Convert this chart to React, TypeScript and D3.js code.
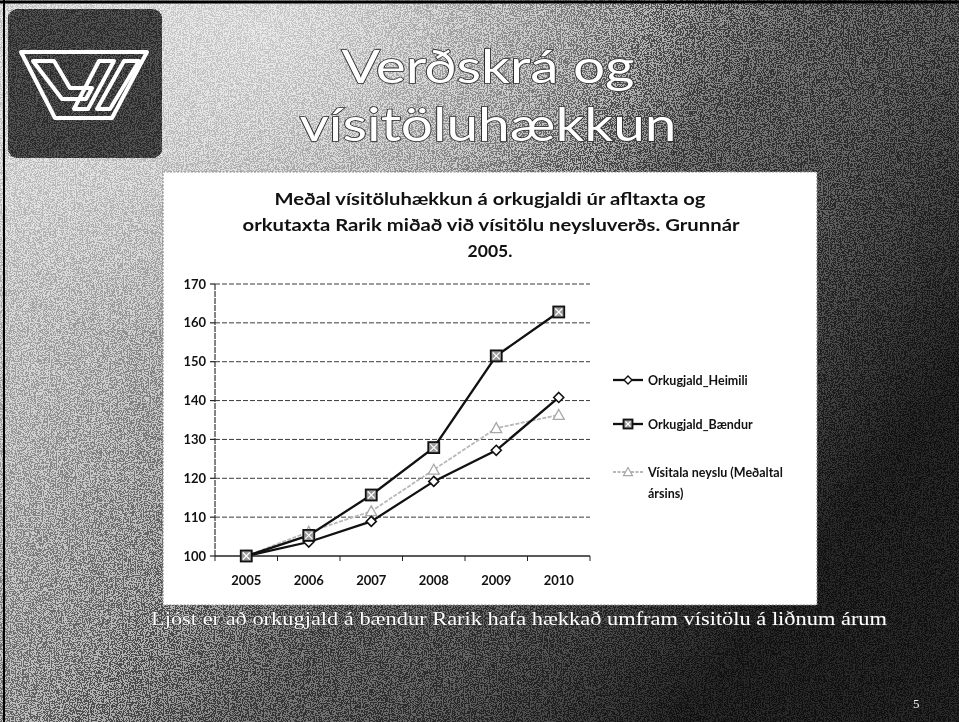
import React from "react";
import * as d3 from "d3";

const years = ["2005", "2006", "2007", "2008", "2009", "2010"];
const heimili = [100, 103.6, 108.9, 119.2, 127.2, 140.8];
const baendur = [100, 105.3, 115.7, 127.9, 151.5, 162.8];
const visitala = [100, 106.2, 111.5, 122.2, 132.9, 136.3];
const yTicks = [100, 110, 120, 130, 140, 150, 160, 170];
const seriesNames = ["Orkugjald_Heimili", "Orkugjald_Bændur", "Vísitala neyslu (Meðaltal", "ársins)"];
const slideTitle = ["Verðskrá og", "vísitöluhækkun"];
const chartTitle = [
  "Meðal vísitöluhækkun á orkugjaldi úr afltaxta og",
  "orkutaxta Rarik miðað við vísitölu neysluverðs. Grunnár",
  "2005.",
];
const caption = "Ljóst er að orkugjald á bændur Rarik hafa hækkað umfram vísitölu á liðnum árum";

const W = 959;
const H = 722;

export default function App() {
  const x = d3.scaleBand<string>().domain(years).range([215, 590]).padding(0);
  const y = d3.scaleLinear().domain([100, 170]).range([556, 284]);
  const cx = (d: string) => (x(d) as number) + x.bandwidth() / 2;
  const line = d3
    .line<number>()
    .x((_, i) => cx(years[i]))
    .y((v) => y(v));

  const chartFont = "Lato, 'Open Sans', sans-serif";
  const diamond = (px: number, py: number, r: number) =>
    `M${px},${py - r}L${px + r},${py}L${px},${py + r}L${px - r},${py}Z`;
  const triangle = (px: number, py: number, r: number) =>
    `M${px},${py - r}L${px + r},${py + r * 0.8}L${px - r},${py + r * 0.8}Z`;

  const squareMarker = (px: number, py: number, key: string | number, s = 5.5) => (
    <g key={key}>
      <rect x={px - s} y={py - s} width={s * 2} height={s * 2} fill="#9a9a9a" stroke="#111" strokeWidth={1.8} />
      <path d={`M${px - s + 2},${py - s + 2}L${px + s - 2},${py + s - 2}M${px + s - 2},${py - s + 2}L${px - s + 2},${py + s - 2}`} stroke="#fff" strokeWidth={1.2} />
    </g>
  );

  const legendX = 613;
  const legendY = [380, 424, 472];

  return (
    <svg width={W} height={H} style={{ position: "absolute", left: 0, top: 0 }}>
      <defs>
        <linearGradient id="bg" x1="0.1" y1="0.1" x2="0.95" y2="0.6">
          <stop offset="0" stopColor="#cdcdcd" />
          <stop offset="0.2" stopColor="#b2b2b2" />
          <stop offset="0.4" stopColor="#8c8c8c" />
          <stop offset="0.6" stopColor="#585858" />
          <stop offset="0.75" stopColor="#484848" />
          <stop offset="1" stopColor="#1c1c1c" />
        </linearGradient>
        <radialGradient id="glow" cx="0.28" cy="0.05" r="0.45">
          <stop offset="0" stopColor="#e6e6e6" stopOpacity="0.7" />
          <stop offset="1" stopColor="#e6e6e6" stopOpacity="0" />
        </radialGradient>
        <filter id="noise" x="0" y="0" width="100%" height="100%">
          <feTurbulence type="fractalNoise" baseFrequency="0.85" numOctaves="2" seed="3" result="t" />
          <feColorMatrix in="t" type="saturate" values="0" result="g" />
          <feComponentTransfer in="g">
            <feFuncR type="discrete" tableValues="0 0 1 1" />
            <feFuncG type="discrete" tableValues="0 0 1 1" />
            <feFuncB type="discrete" tableValues="0 0 1 1" />
            <feFuncA type="linear" slope="0" intercept="1" />
          </feComponentTransfer>
        </filter>
      </defs>

      {/* slide background */}
      <rect x={0} y={0} width={W} height={H} fill="url(#bg)" />
      <rect x={0} y={0} width={W} height={H} fill="url(#glow)" />
      <rect x={0} y={0} width={W} height={H} filter="url(#noise)" opacity={0.4} style={{ mixBlendMode: "overlay" }} />
      <line x1={0} y1={2} x2={W} y2={2} stroke="#000" strokeWidth={3} />
      <line x1={4} y1={0} x2={4} y2={H} stroke="#000" strokeWidth={2} />

      {/* logo */}
      <rect x={8} y={9} width={154} height={149} rx={9} fill="#3e3e3e" />
      <rect x={8} y={9} width={154} height={149} rx={9} filter="url(#noise)" opacity={0.3} style={{ mixBlendMode: "overlay" }} />
      <g fill="none" stroke="#fff" strokeWidth={4} strokeLinejoin="round">
        <path d="M21,52L147,52L112,118L55,118Z" />
        <path d="M33,61L54,61L70,88L92,88L86,99L62,99Z" />
        <path d="M99,61L114,61L88,109L74,109Z" />
        <path d="M124,61L139,61L110,109L97,109Z" />
      </g>

      {/* slide title */}
      <g fontFamily="Lato, 'Open Sans', sans-serif" fontSize={47} fill="#fff" stroke="#2a2a2a" strokeWidth={1.6} style={{ paintOrder: "stroke" }} textAnchor="middle">
        <text x={488} y={83} textLength={293} lengthAdjust="spacingAndGlyphs">{slideTitle[0]}</text>
        <text x={488} y={141} textLength={377} lengthAdjust="spacingAndGlyphs">{slideTitle[1]}</text>
      </g>

      {/* chart box */}
      <rect x={163} y={172} width={654} height={433} fill="#fff" stroke="#8a8a8a" strokeWidth={1.2} strokeDasharray="2,1.5" />

      {/* chart title */}
      <g fontFamily={chartFont} fontWeight="bold" fontSize={17.5} fill="#111" textAnchor="middle">
        <text x={490} y={205} textLength={431} lengthAdjust="spacingAndGlyphs">{chartTitle[0]}</text>
        <text x={491} y={231} textLength={497} lengthAdjust="spacingAndGlyphs">{chartTitle[1]}</text>
        <text x={490} y={257}>{chartTitle[2]}</text>
      </g>

      {/* gridlines */}
      {yTicks.slice(1).map((t) => (
        <line key={t} x1={215} x2={590} y1={y(t)} y2={y(t)} stroke="#3a3a3a" strokeWidth={1} strokeDasharray="5,2" />
      ))}
      {/* axes */}
      <line x1={215} x2={215} y1={y(170)} y2={y(100)} stroke="#333" strokeWidth={1.2} strokeDasharray="6,1" />
      <line x1={215} x2={590} y1={y(100)} y2={y(100)} stroke="#222" strokeWidth={1.3} />
      {yTicks.map((t) => (
        <line key={"yt" + t} x1={210} x2={215} y1={y(t)} y2={y(t)} stroke="#222" strokeWidth={1.2} />
      ))}
      {years.map((d) => (
        <line key={"xt" + d} x1={x(d) as number} x2={x(d) as number} y1={y(100)} y2={y(100) + 5} stroke="#222" strokeWidth={1} />
      ))}
      <line x1={590} x2={590} y1={y(100)} y2={y(100) + 5} stroke="#222" strokeWidth={1} />

      {/* y labels */}
      <g fontFamily={chartFont} fontWeight="bold" fontSize={13} fill="#111" textAnchor="end">
        {yTicks.map((t) => (
          <text key={t} x={206} y={y(t) + 4.5}>{t}</text>
        ))}
      </g>
      {/* x labels */}
      <g fontFamily={chartFont} fontWeight="bold" fontSize={13} fill="#111" textAnchor="middle">
        {years.map((d) => (
          <text key={d} x={cx(d)} y={585}>{d}</text>
        ))}
      </g>

      {/* series */}
      <path d={line(visitala) || ""} fill="none" stroke="#b8b8b8" strokeWidth={1.8} strokeDasharray="4,1.5" />
      <path d={line(baendur) || ""} fill="none" stroke="#111" strokeWidth={2.3} />
      <path d={line(heimili) || ""} fill="none" stroke="#111" strokeWidth={2.3} />
      {visitala.map((v, i) => (
        <path key={"v" + i} d={triangle(cx(years[i]), y(v), 5.5)} fill="#fff" stroke="#a8a8a8" strokeWidth={1.3} />
      ))}
      {heimili.map((v, i) => (
        <path key={"h" + i} d={diamond(cx(years[i]), y(v), 5)} fill="#fff" stroke="#111" strokeWidth={1.6} />
      ))}
      {baendur.map((v, i) => squareMarker(cx(years[i]), y(v), "b" + i))}

      {/* legend */}
      <g>
        <line x1={legendX} x2={legendX + 30} y1={legendY[0]} y2={legendY[0]} stroke="#111" strokeWidth={2.3} />
        <path d={diamond(legendX + 15, legendY[0], 4)} fill="#fff" stroke="#111" strokeWidth={1.4} />
        <line x1={legendX} x2={legendX + 30} y1={legendY[1]} y2={legendY[1]} stroke="#111" strokeWidth={2.3} />
        {squareMarker(legendX + 15, legendY[1], "lb", 4.5)}
        <line x1={legendX} x2={legendX + 30} y1={legendY[2]} y2={legendY[2]} stroke="#b8b8b8" strokeWidth={1.8} strokeDasharray="3,1.5" />
        <path d={triangle(legendX + 15, legendY[2], 4.5)} fill="#fff" stroke="#a8a8a8" strokeWidth={1.2} />
      </g>
      <g fontFamily={chartFont} fontWeight="bold" fontSize={12.5} fill="#111">
        <text x={648} y={legendY[0] + 4.5}>{seriesNames[0]}</text>
        <text x={648} y={legendY[1] + 4.5}>{seriesNames[1]}</text>
        <text x={648} y={legendY[2] + 4.5}>{seriesNames[2]}</text>
        <text x={648} y={legendY[2] + 26}>{seriesNames[3]}</text>
      </g>

      {/* caption */}
      <text x={151} y={625} textLength={736} lengthAdjust="spacingAndGlyphs" fontFamily="'Liberation Serif', 'DejaVu Serif', serif" fontSize={19} fill="#fff" stroke="#333" strokeWidth={0.8} style={{ paintOrder: "stroke" }}>
        {caption}
      </text>
      <text x={913} y={708} fontFamily="'Liberation Serif', serif" fontSize={13} fill="#eee">5</text>
    </svg>
  );
}
